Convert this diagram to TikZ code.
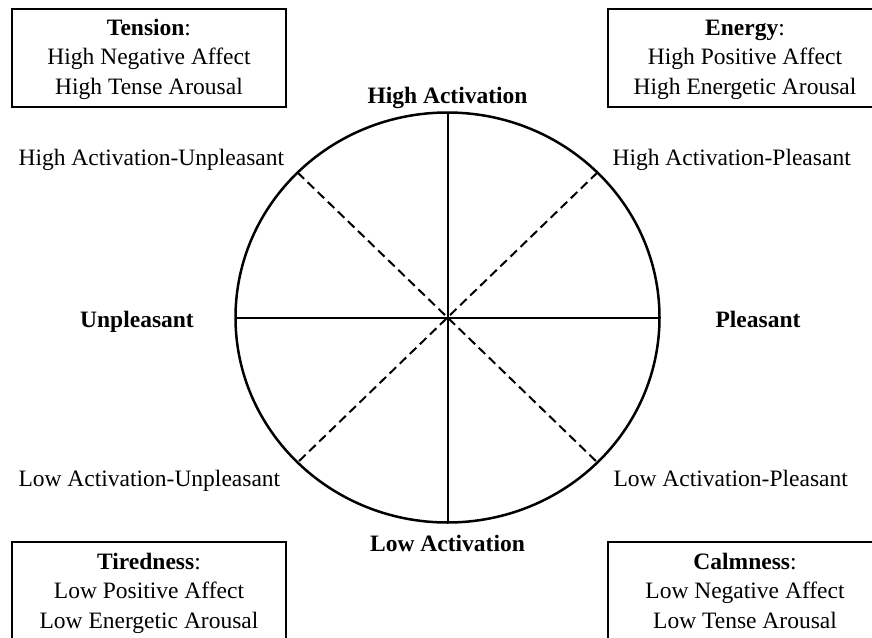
\documentclass[tikz,border=0pt]{standalone}
\usepackage{fontspec}
\setmainfont{Liberation Serif}
\usepackage{tikz}
\usetikzlibrary{shapes.geometric}
\newcommand{\figfont}{\fontsize{23.5}{29.5}\selectfont}
\newcommand{\boxtop}{\rule{0pt}{23pt}}
\newcommand{\boxend}{\rule[-8.85pt]{0pt}{8.85pt}}

\begin{document}
\begin{tikzpicture}[
    x=1pt, y=-1pt,
    box/.style={draw, line width=2pt, minimum width=274pt, minimum height=100pt, inner sep=0pt, align=center, font=\figfont},
    axis/.style={font=\figfont\bfseries, anchor=base},
    octant/.style={font=\figfont, anchor=base west},
    split/.style={line width=2pt},
    diag/.style={line width=2pt, dash pattern=on 9pt off 5pt},
]
    \useasboundingbox (0,0) rectangle (872,637);
    \clip (0,0) rectangle (872,637);

    % Circumplex
    \node[ellipse, draw, line width=2.5pt, minimum width=424pt, minimum height=410pt, inner sep=0pt, outer sep=0pt] (circ) at (447.5,317.5) {};
    \draw[split] (circ.north) -- (circ.south);
    \draw[split] (circ.west) -- (circ.east);
    \draw[diag] (circ.north west) -- (circ.south east);
    \draw[diag] (circ.north east) -- (circ.south west);

    % Axis labels
    \node[axis] (hact) at (447.5,103) {High Activation};
    \node[axis] (lact) at (447.5,551) {Low Activation};
    \node[axis] (unpl) at (137,327.5) {Unpleasant};
    \node[axis] (pl) at (758,327.5) {Pleasant};

    % Octant labels
    \node[octant] (hau) at (15,165) {High Activation-Unpleasant};
    \node[octant] (hap) at (609,165) {High Activation-Pleasant};
    \node[octant] (lau) at (15,486) {Low Activation-Unpleasant};
    \node[octant] (lap) at (610,486) {Low Activation-Pleasant};

    % Corner boxes
    \node[box, minimum height=98pt] (tension) at (149,57.5) {\boxtop\textbf{Tension}:\\High Negative Affect\\High Tense Arousal\boxend};
    \node[box, minimum height=98pt] (energy) at (745,57.5) {\boxtop\textbf{Energy}:\\High Positive Affect\\High Energetic Arousal\boxend};
    \node[box] (tired) at (149,591.5) {\boxtop\textbf{Tiredness}:\\Low Positive Affect\\Low Energetic Arousal\boxend};
    \node[box] (calm) at (745,591.5) {\boxtop\textbf{Calmness}:\\Low Negative Affect\\Low Tense Arousal\boxend};

\end{tikzpicture}
\end{document}
